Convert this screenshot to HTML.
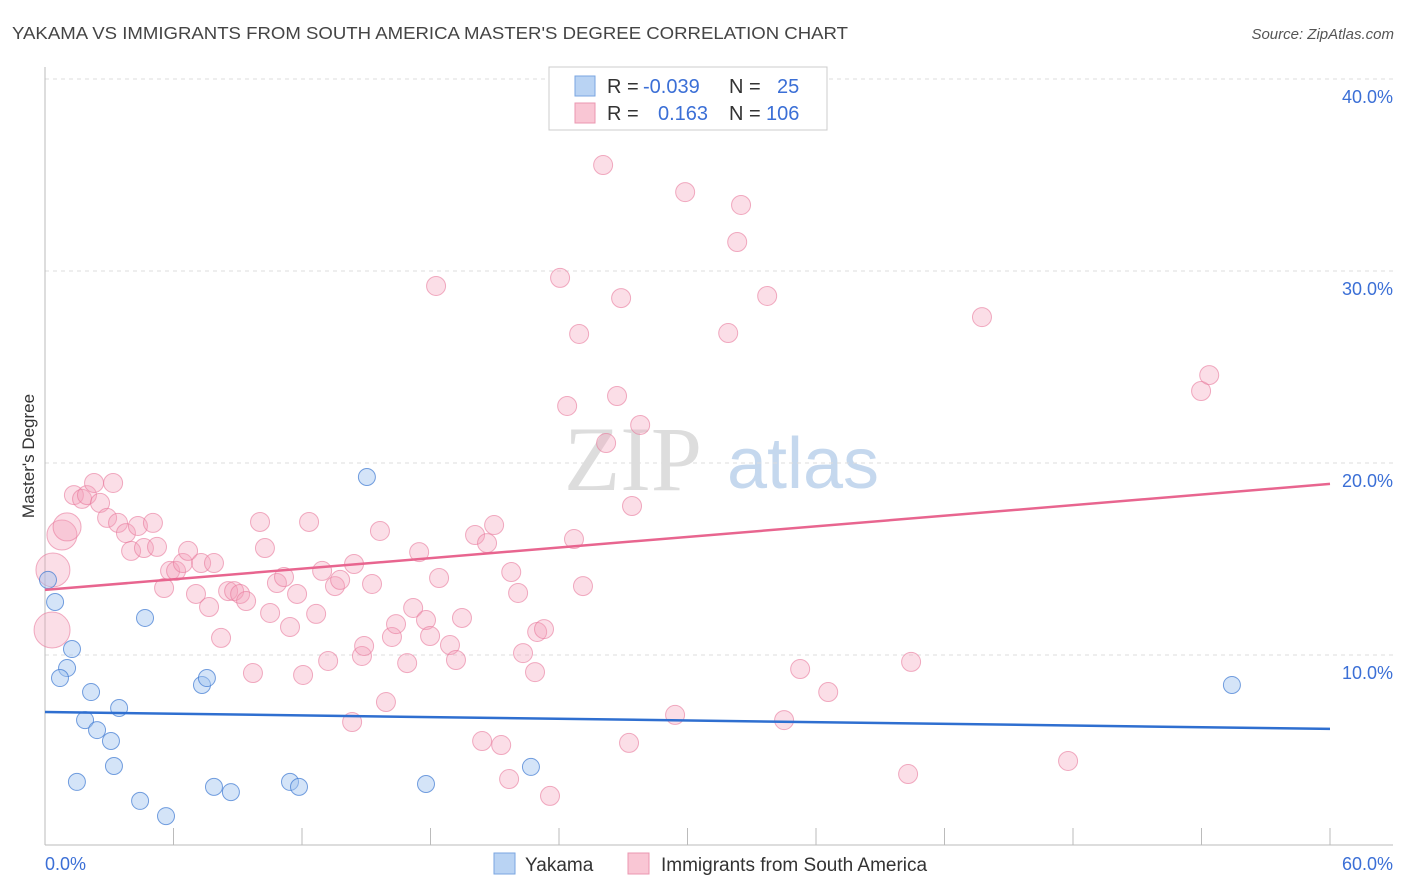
<!DOCTYPE html>
<html><head><meta charset="utf-8"><style>
body{margin:0;background:#fff;font-family:"Liberation Sans",sans-serif}
svg{display:block}
</style></head><body>
<svg id="chart" width="1406" height="892" xmlns="http://www.w3.org/2000/svg" font-family="Liberation Sans, sans-serif">
<text x="12" y="39" font-size="17.5" fill="#444" textLength="836" lengthAdjust="spacingAndGlyphs">YAKAMA VS IMMIGRANTS FROM SOUTH AMERICA MASTER'S DEGREE CORRELATION CHART</text>
<text x="1394" y="39" font-size="15" fill="#555" text-anchor="end" font-style="italic">Source: ZipAtlas.com</text>
<g>
<text x="633" y="490" font-size="92" fill="#ddd" font-family="Liberation Serif, serif" text-anchor="middle">ZIP</text>
<text x="803" y="488" font-size="72" fill="#c5d8ee" text-anchor="middle">atlas</text>
</g>
<g id="grid"></g>
<g id="axes"></g>
<g id="marks"></g>
<text transform="translate(34,456) rotate(-90)" font-size="17" fill="#333" text-anchor="middle">Master's Degree</text>
<g>
<rect x="549" y="67" width="278" height="63" fill="#fff" stroke="#ccc"/>
<rect x="575" y="76" width="20" height="20" fill="#b9d3f3" stroke="#7aa6e0"/>
<rect x="575" y="103" width="20" height="20" fill="#f9c6d4" stroke="#eb97b0"/>
<text x="607" y="93" font-size="20" fill="#333">R = <tspan x="643" fill="#3b6fd6">-0.039</tspan><tspan x="729">N =</tspan><tspan x="777" fill="#3b6fd6">25</tspan></text>
<text x="607" y="120" font-size="20" fill="#333">R = <tspan x="658" fill="#3b6fd6">0.163</tspan><tspan x="729">N =</tspan><tspan x="766" fill="#3b6fd6">106</tspan></text>
</g>
<g>
<rect x="494" y="853" width="21" height="21" fill="#b9d3f3" stroke="#7aa6e0"/>
<text x="525" y="871" font-size="19" fill="#333">Yakama</text>
<rect x="628" y="853" width="21" height="21" fill="#f9c6d4" stroke="#eb97b0"/>
<text x="661" y="871" font-size="19" fill="#333">Immigrants from South America</text>
</g>
</svg>
<script>
const yTicks=[10,20,30,40];
const yTickLabels=["10.0%","20.0%","30.0%","40.0%"];
const xTicks=[0,6,12,18,24,30,36,42,48,54,60];
const xEndLabels=["0.0%","60.0%"];
const yakamaX=[0.14,0.47,1.26,1.03,0.70,2.15,3.46,1.87,2.43,3.08,3.22,1.49,4.44,5.65,4.67,7.33,7.56,7.89,8.68,11.44,11.86,15.03,17.79,22.69,55.42];
const yakamaY=[13.91,12.76,10.31,9.32,8.80,8.07,7.24,6.61,6.09,5.52,4.22,3.39,2.40,1.61,11.93,8.44,8.80,3.13,2.86,3.39,3.13,19.27,3.28,4.17,8.44];
const saX=[0.79,1.03,0.37,0.33,1.35,1.73,1.96,2.29,3.18,2.57,2.90,3.41,3.78,4.02,4.34,4.62,5.04,5.23,5.56,5.84,6.12,6.44,6.68,7.05,7.29,7.66,7.89,8.22,8.55,8.83,9.11,9.39,9.71,10.04,10.27,10.51,10.83,11.16,11.44,11.77,12.05,12.33,12.66,12.94,13.22,13.54,13.78,14.34,14.43,14.80,14.90,15.27,15.64,15.92,16.20,16.39,16.91,17.19,17.47,17.79,17.98,18.26,18.40,18.91,19.19,19.47,20.08,20.41,20.64,20.97,21.30,21.67,21.77,22.09,22.32,22.88,22.98,23.30,23.58,24.05,24.38,24.70,24.94,25.12,26.06,26.20,26.71,26.90,27.27,27.41,27.79,29.42,29.89,31.90,32.32,32.50,33.72,34.51,35.26,36.57,40.30,40.44,43.75,47.77,53.98,54.36];
const saY=[16.25,16.67,14.43,11.30,18.33,18.13,18.33,18.96,18.96,17.92,17.14,16.88,16.35,15.42,16.72,15.57,16.88,15.63,13.49,14.38,14.38,14.79,15.42,13.18,14.79,12.50,14.79,10.89,13.33,13.33,13.18,12.81,9.06,16.93,15.57,12.19,13.75,14.06,11.46,13.18,8.96,16.93,12.14,14.38,9.69,13.59,13.91,6.51,14.74,9.95,10.47,13.70,16.46,7.55,10.94,11.61,9.58,12.45,15.36,11.82,10.99,29.22,14.01,10.52,9.74,11.93,16.25,5.52,15.83,16.77,5.31,3.54,14.32,13.23,10.10,9.11,11.20,11.35,2.66,29.64,22.97,16.04,26.72,13.59,35.52,21.04,23.49,28.59,5.42,17.76,21.98,6.88,34.11,26.77,31.51,33.44,28.70,6.61,9.27,8.07,3.80,9.64,27.60,4.48,23.75,24.58];
const saSize=[15,14,17,18];
const trendX=[0,60];
const yakamaTrend=[7.03,6.15];
const saTrend=[13.39,18.91];
const NS="http://www.w3.org/2000/svg";
const X0=45,X1=1330,Y0=847,YPER=19.2;
function sx(v){return X0+(v/60)*(X1-X0);}
function sy(v){return Y0-v*YPER;}
function mk(tag,attrs,parent){const e=document.createElementNS(NS,tag);for(const k in attrs)e.setAttribute(k,attrs[k]);parent.appendChild(e);return e;}
const grid=document.getElementById('grid'),axes=document.getElementById('axes'),marks=document.getElementById('marks');
yTicks.forEach((t,i)=>{
 const l=mk('line',{x1:45,x2:1393,y1:sy(t),y2:sy(t),stroke:'#ddd','stroke-dasharray':'4,4'},grid);
 
 
 const tx=mk('text',{x:1393,y:sy(t)+24,'font-size':18,fill:'#3b6fd6','text-anchor':'end'},axes);
 tx.textContent=yTickLabels[i];
 
 
});
const al=mk('line',{x1:45,x2:45,y1:67,y2:845,stroke:'#bbb'},axes);


const bl=mk('line',{x1:45,x2:1393,y1:845,y2:845,stroke:'#bbb'},axes);


xTicks.forEach(t=>{
 const l=mk('line',{x1:sx(t),x2:sx(t),y1:845,y2:828,stroke:'#bbb'},axes);
 
 
});
const xl0=mk('text',{x:45,y:870,'font-size':18,fill:'#3b6fd6'},axes);
xl0.textContent=xEndLabels[0];


const xl1=mk('text',{x:1393,y:870,'font-size':18,fill:'#3b6fd6','text-anchor':'end'},axes);
xl1.textContent=xEndLabels[1];


saX.forEach((x,i)=>{
 const c=mk('circle',{cx:sx(x),cy:sy(saY[i]),r:saSize[i]||9.5,fill:'rgba(244,160,186,0.35)',stroke:'rgba(232,120,155,0.6)','stroke-width':1},marks);
 
 
});
yakamaX.forEach((x,i)=>{
 const c=mk('circle',{cx:sx(x),cy:sy(yakamaY[i]),r:8.5,fill:'rgba(160,196,240,0.45)',stroke:'rgba(60,120,210,0.7)','stroke-width':1},marks);
 
 
});
const t1=mk('line',{x1:sx(trendX[0]),x2:sx(trendX[1]),y1:sy(saTrend[0]),y2:sy(saTrend[1]),stroke:'#e8658f','stroke-width':2.5},marks);


const t2=mk('line',{x1:sx(trendX[0]),x2:sx(trendX[1]),y1:sy(yakamaTrend[0]),y2:sy(yakamaTrend[1]),stroke:'#2f6fd0','stroke-width':2.5},marks);


</script>
</body></html>
